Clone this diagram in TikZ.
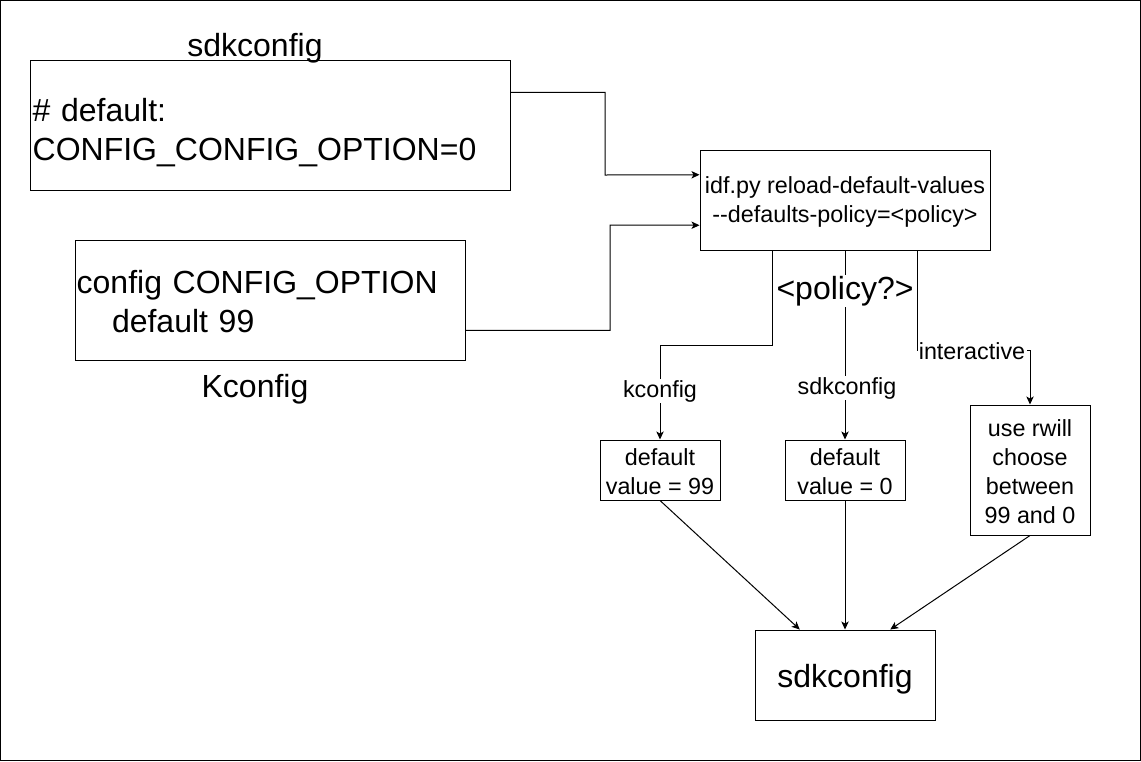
\documentclass[tikz,border=0pt]{standalone}
\usepackage{fontspec}
\setmainfont{Liberation Sans}
\usetikzlibrary{arrows.meta,calc}
\tikzset{
  big/.style={font=\fontsize{24}{29.25}\selectfont},
  small/.style={font=\fontsize{17.5}{21.75}\selectfont},
  box/.style={draw, line width=0.75pt, rectangle, inner sep=0pt},
  conn/.style={line width=0.75pt, -{Stealth[length=6pt,width=5.5pt,inset=1.5pt]}},
  line/.style={line width=0.75pt},
  lbl/.style={fill=white, inner sep=1pt}
}
\begin{document}
\begin{tikzpicture}[x=0.75pt,y=-0.75pt]
\useasboundingbox (0,0) rectangle (1141,761);
\draw[line] (0.5,0.5) rectangle (1140.5,760.5);

% top-left sdkconfig box
\node[box, big, minimum width=360pt, minimum height=97.5pt, text width=356pt, align=left, inner xsep=2pt] (sdk) at (270,125) {\rule{0pt}{28.2pt}\# default:\\CONFIG\_CONFIG\_OPTION=0};
\node[big, inner sep=0pt] (sdkt) at (255,48) {sdkconfig};

% Kconfig box
\node[box, big, minimum width=292.5pt, minimum height=90pt, text width=290pt, align=left, inner xsep=1.25pt] (kc) at (270,300) {\rule{0pt}{20.2pt}config CONFIG\_OPTION\\\hspace*{26.5pt}default 99};
\node[big, inner sep=0pt] (kct) at (255,389) {Kconfig};

% idf box
\node[box, small, minimum width=217.5pt, minimum height=75pt, align=center] (idf) at (845,200) {\rule{0pt}{16pt}idf.py reload-default-values\\-{}-defaults-policy=<policy>};

% result boxes
\node[box, small, minimum width=90pt, minimum height=45pt, align=center] (dv99) at (660,470) {\rule{0pt}{15.5pt}default\\value = 99};
\node[box, small, minimum width=90pt, minimum height=45pt, align=center] (dv0) at (845,470) {\rule{0pt}{15.5pt}default\\value = 0};
\node[box, small, minimum width=90pt, minimum height=97.5pt, align=center] (rw) at (1030,470) {\rule{0pt}{14.5pt}use rwill\\choose\\between\\99 and 0};

% bottom sdkconfig
\node[box, big, minimum width=135pt, minimum height=67.5pt] (out) at (845,675) {\rule{0pt}{23.5pt}sdkconfig};

% inputs to idf
\draw[conn] ($(sdk.north east)!0.25!(sdk.south east)$) -| (605,175) -- ($(idf.north west)!0.25!(idf.south west)$);
\draw[conn] ($(kc.north east)!0.75!(kc.south east)$) -| (610,225) -- ($(idf.north west)!0.75!(idf.south west)$);

% policy branches
\coordinate (p1) at ($(idf.south west)!0.25!(idf.south east)$);
\coordinate (p3) at ($(idf.south west)!0.75!(idf.south east)$);
\draw[conn] (p1) -- ++(0,95) -| (dv99.north);
\draw[conn] (idf.south) -- (dv0.north);
\draw[conn] (p3) -- ++(0,100) -| (rw.north);

\node[lbl, big] (pol) at (845,291) {<policy?>};
\node[lbl, small] (lk) at (660,391) {kconfig};
\node[lbl, small] (ls) at (847,388) {sdkconfig};
\node[lbl, small] (li) at (972,351) {interactive};

% to output
\draw[conn] (dv99.south) -- ($(out.north west)!0.25!(out.north east)$);
\draw[conn] (dv0.south) -- (out.north);
\draw[conn] (rw.south) -- ($(out.north west)!0.75!(out.north east)$);
\end{tikzpicture}
\end{document}
